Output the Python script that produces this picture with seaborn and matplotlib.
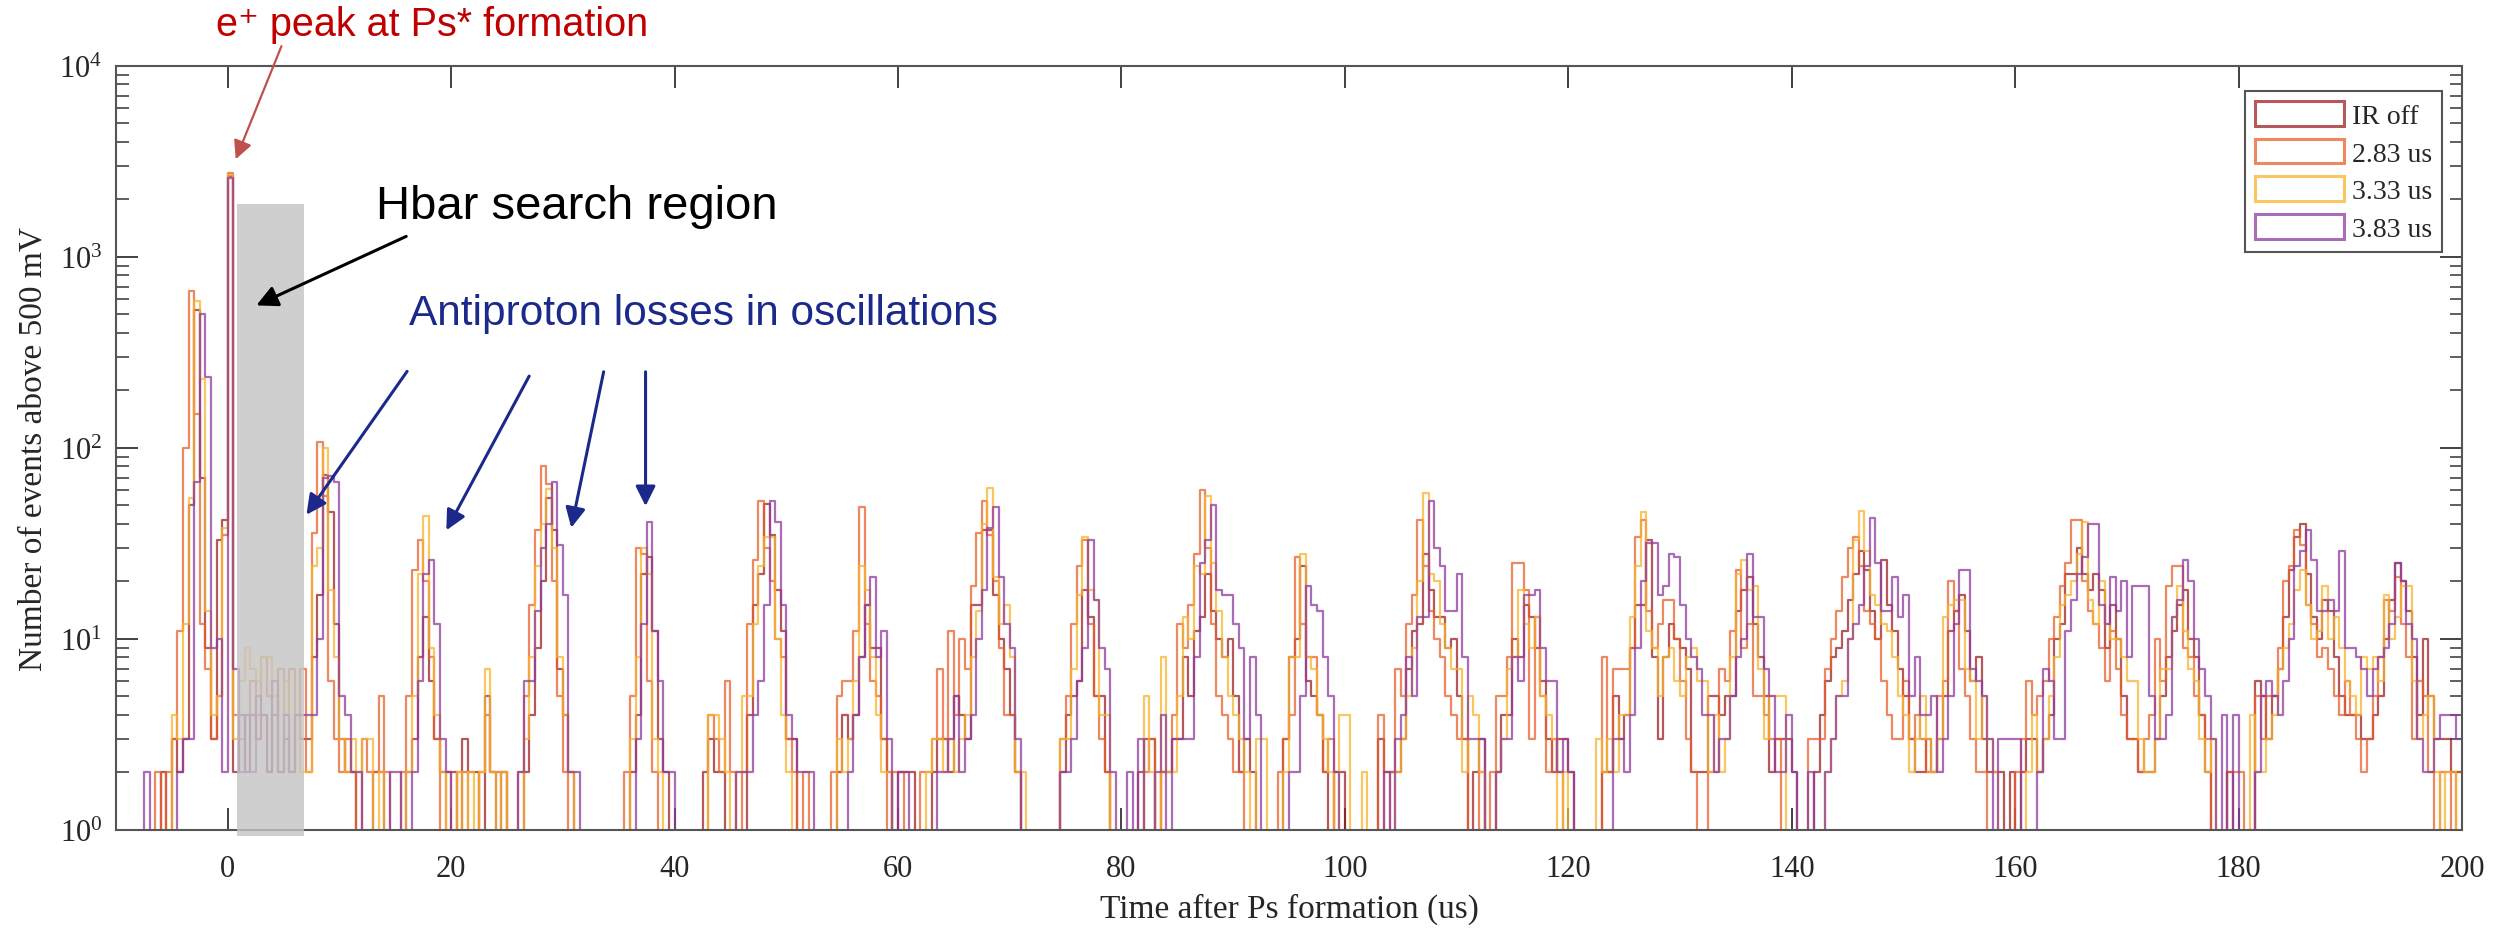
import numpy as np
import pandas as pd
import matplotlib
matplotlib.use('Agg')
import matplotlib.pyplot as plt
from matplotlib.patches import Rectangle, Patch
from matplotlib.colors import to_rgba
from matplotlib.ticker import NullLocator
import seaborn as sns

#------------------------------------------------------------------------------
# DATA (counts per 0.5 us bin; one row = 10 us)
#------------------------------------------------------------------------------

bin_width = 0.5
t_start, t_stop = -10, 200

series_names = ['IR off', '2.83 us', '3.33 us', '3.83 us']
series_colors = ['#9e1f24', '#e8602c', '#f7b42c', '#8e3b9e']

ir_off = [
    0, 0, 0, 0, 0, 0, 0, 0, 2, 0, 3, 2, 3, 50, 530, 70, 9, 3, 33, 42,            # -10
    2650, 2, 4, 2, 4, 3, 4, 2, 4, 2, 3, 2, 4, 3, 3, 8, 17, 72, 46, 12,         # 0
    3, 2, 2, 0, 0, 0, 2, 2, 0, 0, 0, 0, 2, 3, 8, 13, 6, 3, 2, 2,               # 10
    2, 0, 3, 2, 2, 0, 5, 2, 0, 2, 0, 0, 0, 2, 4, 9, 20, 55, 37, 7,             # 20
    4, 2, 0, 0, 0, 0, 0, 0, 0, 0, 0, 0, 2, 4, 22, 27, 11, 3, 2, 0,             # 30
    0, 0, 0, 0, 0, 2, 3, 2, 2, 0, 0, 0, 0, 4, 15, 22, 51, 35, 18, 11,          # 40
    3, 3, 0, 0, 0, 0, 0, 0, 0, 2, 4, 3, 4, 8, 15, 9, 9, 3, 2, 0,               # 50
    2, 2, 2, 0, 0, 0, 2, 3, 3, 2, 5, 4, 3, 15, 15, 37, 37, 17, 10, 7,          # 60
    4, 2, 0, 0, 0, 0, 0, 0, 0, 2, 4, 5, 6, 18, 13, 5, 5, 2, 0, 0,              # 70
    0, 0, 0, 2, 3, 3, 0, 2, 2, 3, 3, 8, 5, 11, 13, 22, 14, 10, 8, 10,          # 80
    5, 2, 3, 2, 0, 0, 0, 0, 0, 3, 8, 10, 24, 6, 5, 4, 2, 0, 2, 2,              # 90
    0, 0, 0, 0, 0, 0, 3, 2, 2, 2, 3, 7, 11, 12, 28, 18, 13, 13, 9, 10,         # 100
    5, 3, 0, 2, 3, 0, 0, 2, 4, 4, 10, 8, 15, 13, 9, 6, 3, 2, 3, 3,             # 110
    2, 0, 0, 0, 0, 0, 2, 2, 5, 3, 4, 9, 15, 15, 33, 8, 3, 8, 12, 10,           # 120
    9, 7, 2, 2, 2, 5, 5, 4, 5, 5, 14, 18, 21, 12, 8, 5, 2, 3, 3, 3,            # 130
    2, 0, 0, 0, 2, 4, 6, 8, 9, 11, 16, 22, 29, 23, 14, 10, 26, 15, 11, 7,      # 140
    5, 3, 2, 2, 3, 2, 3, 5, 11, 14, 17, 11, 6, 8, 3, 2, 2, 2, 0, 2,            # 150
    0, 2, 3, 3, 2, 3, 4, 10, 12, 22, 22, 30, 22, 18, 22, 18, 9, 15, 10, 5,     # 160
    3, 3, 2, 2, 2, 3, 5, 8, 11, 15, 18, 10, 8, 4, 2, 0, 0, 0, 2, 0,            # 170
    0, 0, 0, 6, 5, 3, 5, 7, 13, 23, 34, 40, 22, 13, 10, 16, 14, 8, 5, 4,       # 180
    4, 4, 3, 3, 4, 5, 10, 16, 25, 20, 14, 8, 4, 10, 5, 3, 3, 3, 2, 2,          # 190
]

ir_283 = [
    0, 0, 0, 0, 0, 0, 0, 2, 0, 2, 3, 11, 100, 660, 150, 12, 7, 3, 5, 35,       # -10
    2750, 4, 3, 4, 6, 4, 8, 5, 4, 7, 4, 7, 4, 7, 2, 36, 108, 56, 6, 3,         # 0
    2, 3, 2, 0, 3, 2, 2, 5, 2, 0, 0, 2, 5, 23, 33, 20, 8, 3, 0, 2,             # 10
    0, 2, 2, 0, 0, 2, 4, 2, 2, 2, 0, 0, 2, 5, 15, 37, 80, 65, 20, 5,           # 20
    2, 0, 0, 0, 0, 0, 0, 0, 0, 0, 0, 2, 5, 30, 28, 6, 2, 0, 0, 0,              # 30
    0, 0, 0, 0, 0, 0, 4, 3, 2, 6, 2, 0, 2, 12, 26, 53, 30, 20, 10, 8,          # 40
    3, 2, 0, 2, 0, 0, 0, 0, 2, 5, 6, 6, 11, 49, 12, 6, 5, 3, 0, 2,             # 50
    2, 0, 0, 0, 2, 2, 3, 7, 3, 11, 4, 10, 7, 19, 36, 53, 35, 20, 9, 4,         # 60
    4, 2, 0, 0, 0, 0, 0, 0, 0, 3, 5, 12, 24, 33, 12, 5, 3, 2, 0, 0,            # 70
    0, 0, 0, 0, 2, 3, 0, 2, 2, 4, 12, 9, 15, 28, 60, 30, 12, 5, 4, 3,          # 80
    2, 2, 0, 0, 0, 0, 0, 0, 2, 3, 4, 27, 12, 8, 8, 4, 2, 3, 0, 0,              # 90
    0, 0, 0, 0, 0, 0, 4, 0, 2, 7, 5, 12, 17, 42, 24, 14, 10, 8, 5, 4,          # 100
    3, 3, 0, 0, 2, 0, 2, 5, 5, 8, 25, 25, 18, 3, 13, 5, 2, 3, 2, 0,            # 110
    0, 0, 0, 0, 0, 0, 8, 2, 7, 7, 7, 9, 34, 42, 14, 9, 12, 16, 16, 10,         # 120
    6, 3, 2, 0, 0, 2, 2, 7, 6, 11, 23, 9, 12, 5, 5, 4, 3, 3, 0, 0,             # 130
    0, 0, 0, 3, 3, 3, 7, 10, 14, 21, 30, 34, 24, 14, 12, 10, 6, 4, 3, 3,       # 140
    6, 3, 4, 3, 2, 2, 5, 6, 20, 14, 7, 5, 3, 2, 2, 0, 0, 0, 0, 0,              # 150
    2, 3, 6, 4, 5, 6, 10, 13, 19, 25, 42, 42, 20, 14, 12, 9, 6, 11, 7, 4,      # 160
    3, 3, 2, 3, 4, 10, 6, 19, 24, 24, 9, 8, 5, 4, 3, 0, 0, 0, 2, 2,            # 170
    2, 0, 0, 5, 3, 5, 5, 9, 20, 24, 37, 31, 15, 12, 8, 9, 7, 5, 4, 6,          # 180
    4, 3, 2, 3, 5, 8, 16, 14, 21, 12, 8, 3, 6, 5, 2, 0, 2, 2, 0, 2,            # 190
]

ir_333 = [
    0, 0, 0, 0, 0, 0, 0, 0, 0, 0, 4, 3, 12, 55, 590, 230, 14, 4, 5, 38,        # -10
    2700, 3, 6, 9, 7, 6, 8, 8, 5, 2, 6, 2, 4, 2, 2, 24, 30, 100, 18, 8,        # 0
    3, 2, 3, 2, 3, 3, 0, 2, 0, 0, 0, 0, 2, 5, 22, 44, 9, 4, 2, 0,              # 10
    0, 2, 0, 2, 0, 2, 7, 2, 0, 2, 0, 0, 0, 3, 8, 24, 40, 61, 30, 8,            # 20
    4, 2, 0, 0, 0, 0, 0, 0, 0, 0, 0, 0, 3, 8, 30, 22, 3, 2, 0, 0,              # 30
    0, 0, 0, 0, 0, 0, 4, 4, 3, 2, 0, 2, 5, 5, 12, 24, 34, 34, 10, 4,           # 40
    2, 0, 0, 0, 0, 0, 0, 0, 0, 3, 2, 3, 6, 24, 18, 8, 4, 2, 2, 0,              # 50
    0, 0, 0, 0, 0, 2, 3, 3, 2, 3, 2, 3, 4, 8, 14, 40, 62, 21, 12, 15,          # 60
    8, 2, 2, 0, 0, 0, 0, 0, 0, 3, 3, 7, 17, 34, 18, 16, 4, 4, 0, 0,            # 70
    0, 0, 0, 0, 5, 2, 0, 8, 2, 2, 5, 13, 10, 24, 22, 56, 25, 14, 8, 5,         # 80
    4, 3, 2, 0, 3, 3, 0, 0, 0, 2, 8, 8, 28, 8, 7, 4, 3, 2, 0, 4,               # 90
    4, 0, 0, 2, 0, 0, 0, 0, 0, 2, 3, 5, 9, 20, 58, 22, 20, 12, 9, 7,           # 100
    7, 2, 5, 4, 2, 0, 0, 2, 3, 7, 8, 18, 12, 9, 13, 5, 4, 3, 0, 2,             # 110
    0, 0, 0, 0, 0, 3, 2, 3, 2, 4, 4, 13, 24, 46, 11, 9, 5, 8, 9, 6,            # 120
    5, 8, 9, 6, 6, 2, 4, 2, 3, 8, 22, 26, 18, 19, 7, 3, 5, 5, 5, 0,            # 130
    0, 0, 0, 0, 0, 0, 2, 3, 5, 6, 10, 33, 47, 29, 17, 15, 12, 11, 8, 5,        # 140
    4, 2, 3, 5, 3, 2, 3, 13, 15, 16, 16, 7, 6, 3, 5, 3, 2, 0, 0, 0,            # 150
    0, 0, 2, 4, 2, 3, 5, 8, 15, 17, 20, 28, 41, 16, 12, 20, 12, 10, 10, 8,     # 160
    6, 6, 3, 2, 2, 3, 7, 7, 13, 19, 11, 7, 6, 3, 2, 3, 0, 0, 0, 0,             # 170
    0, 0, 4, 2, 2, 3, 4, 7, 9, 12, 18, 23, 15, 10, 11, 19, 10, 13, 9, 6,       # 180
    5, 4, 8, 7, 8, 6, 17, 10, 13, 19, 19, 6, 3, 4, 5, 2, 0, 2, 2, 0,           # 190
]

ir_383 = [
    0, 0, 0, 0, 0, 2, 0, 0, 0, 0, 0, 2, 3, 3, 66, 505, 235, 9, 10, 2,          # -10
    2600, 7, 2, 4, 2, 5, 4, 2, 6, 2, 4, 2, 4, 4, 4, 4, 10, 70, 71, 66,         # 0
    5, 4, 2, 2, 0, 0, 0, 0, 0, 2, 2, 0, 0, 2, 6, 22, 26, 12, 3, 2,             # 10
    0, 0, 0, 0, 0, 0, 0, 0, 0, 0, 0, 0, 2, 6, 6, 14, 30, 40, 66, 31,           # 20
    17, 2, 2, 0, 0, 0, 0, 0, 0, 0, 0, 0, 0, 3, 12, 41, 11, 6, 2, 2,            # 30
    0, 0, 0, 0, 0, 0, 0, 0, 0, 0, 0, 2, 2, 2, 4, 6, 15, 53, 41, 15,            # 40
    4, 3, 2, 2, 2, 0, 0, 0, 0, 0, 0, 2, 4, 8, 15, 21, 8, 11, 3, 0,             # 50
    2, 2, 0, 0, 0, 0, 0, 2, 2, 3, 5, 2, 3, 4, 10, 18, 38, 49, 21, 12,          # 60
    9, 3, 0, 0, 0, 0, 0, 0, 0, 2, 2, 3, 6, 9, 33, 16, 9, 7, 2, 0,              # 70
    0, 2, 0, 3, 0, 0, 2, 4, 0, 3, 3, 3, 3, 8, 25, 33, 50, 18, 17, 17,          # 80
    12, 9, 3, 8, 4, 0, 0, 0, 0, 0, 2, 2, 5, 19, 15, 14, 8, 5, 2, 0,            # 90
    0, 0, 0, 0, 0, 0, 0, 2, 0, 3, 4, 8, 5, 13, 13, 53, 30, 24, 14, 14,         # 100
    22, 8, 3, 3, 3, 0, 0, 2, 3, 3, 8, 6, 17, 17, 18, 9, 6, 6, 2, 3,            # 110
    2, 0, 0, 0, 0, 0, 0, 0, 3, 3, 2, 4, 9, 20, 32, 32, 17, 19, 28, 27,         # 120
    15, 10, 8, 7, 4, 4, 2, 3, 3, 5, 8, 10, 28, 13, 13, 7, 5, 2, 2, 4,          # 130
    2, 0, 0, 2, 0, 0, 2, 3, 5, 5, 10, 12, 15, 24, 43, 25, 14, 14, 21, 13,      # 140
    17, 5, 8, 4, 4, 5, 2, 3, 5, 12, 23, 23, 7, 6, 5, 3, 0, 3, 3, 3,            # 150
    3, 0, 0, 0, 2, 7, 6, 3, 3, 11, 16, 22, 27, 40, 40, 15, 12, 21, 14, 20,     # 160
    8, 19, 19, 19, 5, 3, 3, 4, 13, 16, 26, 20, 10, 7, 5, 3, 0, 4, 0, 4,        # 170
    0, 0, 0, 2, 5, 6, 5, 4, 6, 10, 24, 29, 37, 26, 14, 14, 16, 14, 29, 9,      # 180
    9, 8, 7, 5, 7, 8, 9, 12, 25, 20, 12, 10, 3, 2, 2, 3, 4, 4, 4, 3,           # 190
]

#------------------------------------------------------------------------------
# SETUP
#------------------------------------------------------------------------------

n_bins = int(round((t_stop - t_start) / bin_width))
centers = t_start + bin_width * (np.arange(n_bins) + 0.5)

all_counts = [ir_off, ir_283, ir_333, ir_383]
for c in all_counts:
    assert len(c) == n_bins, len(c)

df = pd.concat([
    pd.DataFrame({'time': centers, 'count': c, 'series': n})
    for n, c in zip(series_names, all_counts)
])

sns.set_theme(style='ticks')
plt.rcParams['font.family'] = ['Liberation Serif', 'DejaVu Serif']
plt.rcParams['mathtext.fontset'] = 'custom'
plt.rcParams['mathtext.rm'] = 'Liberation Serif'
plt.rcParams['mathtext.it'] = 'Liberation Serif:italic'

sans = ['Liberation Sans', 'DejaVu Sans']

#------------------------------------------------------------------------------
# PLOTTING
#------------------------------------------------------------------------------

fig = plt.figure(figsize=(25.01, 9.29), dpi=100)
ax = fig.add_axes([0.0464, 0.1055, 0.938, 0.8224])

for name, color in zip(series_names, series_colors):
    sns.histplot(data=df[df.series == name], x='time', weights='count',
                 binwidth=bin_width, binrange=(t_start, t_stop),
                 element='step', fill=False, color=color, alpha=0.75,
                 linewidth=1.6, ax=ax)

ax.set_yscale('log')
ax.set_xlim(t_start, t_stop)
ax.set_ylim(1, 1e4)

# Hbar search window
ax.add_patch(Rectangle((0.8, 0.93), 6.0, 1900 - 0.93, facecolor='#c4c4c4',
                       edgecolor='none', alpha=0.8, zorder=3, clip_on=False))

ax.set_xticks(np.arange(0, 201, 20))
ax.xaxis.set_minor_locator(NullLocator())
ax.tick_params(which='both', direction='in', top=True, right=True, color='#333333')
ax.tick_params(which='major', length=16, width=1.3, labelsize=22)
ax.tick_params(axis='x', which='major', pad=17)
ax.tick_params(axis='y', which='major', pad=10)
ax.tick_params(which='minor', length=9, width=1.1)
for sp in ax.spines.values():
    sp.set_color('#555555')
    sp.set_linewidth(1.5)

ax.set_xlabel('Time after Ps formation (us)', fontsize=24, labelpad=7)
ax.set_ylabel('Number of events above 500 mV', fontsize=24, labelpad=8)

handles = [Patch(facecolor='white', edgecolor=to_rgba(c, 0.75), linewidth=2.2, label=n)
           for n, c in zip(series_names, series_colors)]
leg = ax.legend(handles=handles, loc='upper right', bbox_to_anchor=(0.9915, 0.967),
                borderaxespad=0, fontsize=20, handlelength=3.2, handleheight=1.0,
                labelspacing=0.35, borderpad=0.35, handletextpad=0.3,
                fancybox=False, framealpha=1, edgecolor='#555555')
leg.get_frame().set_linewidth(1.5)

# annotations
ax.text(18.3, 16500, 'e\u207a peak at Ps* formation', family=sans, fontsize=28.5,
        color='#c00000', ha='center', va='center', clip_on=False)
ax.annotate('', xy=(0.62, 3150), xytext=(4.9, 13100), annotation_clip=False,
            arrowprops=dict(arrowstyle='-|>', color='#c0504d', lw=1.6, mutation_scale=28))

ax.text(13.3, 1860, 'Hbar search region', family=sans, fontsize=34,
        color='black', ha='left', va='center')
ax.annotate('', xy=(2.33, 550), xytext=(16.2, 1300),
            arrowprops=dict(arrowstyle='-|>', color='black', lw=2.2, mutation_scale=32))

blue = '#1b2a8a'
ax.text(16.2, 510, 'Antiproton losses in oscillations', family=sans, fontsize=30.5,
        color=blue, ha='left', va='center')
for tail, tip in [((16.2, 259), (6.9, 43.5)), ((27.1, 245), (19.45, 36)),
                  ((33.7, 259), (30.7, 37)), ((37.4, 259), (37.4, 48))]:
    ax.annotate('', xy=tip, xytext=tail,
                arrowprops=dict(arrowstyle='-|>', color=blue, lw=2.2, mutation_scale=30))

fig.savefig('out.png', dpi=100)
plt.close(fig)
